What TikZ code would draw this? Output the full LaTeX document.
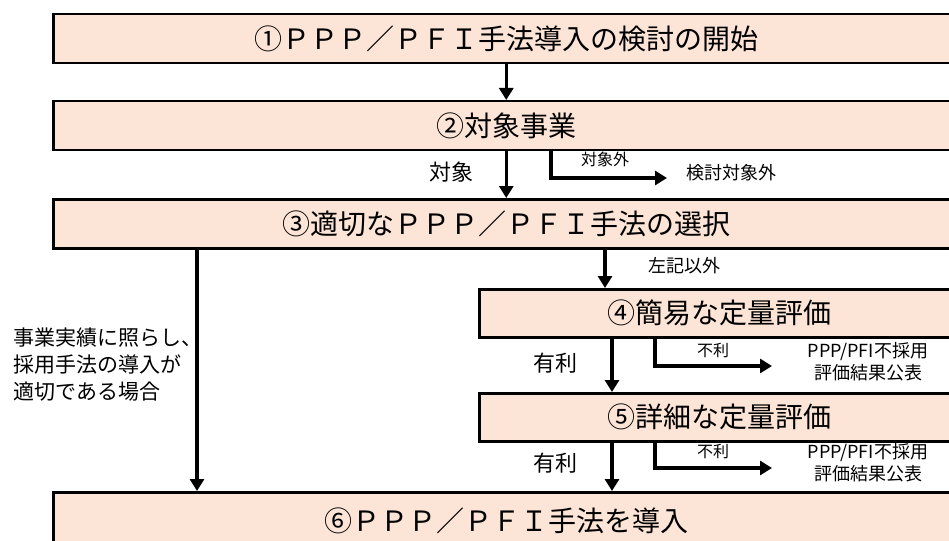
\documentclass[tikz,border=0pt]{standalone}
\usepackage{fontspec}
\setmainfont{Noto Sans CJK JP}
\usetikzlibrary{arrows.meta}

\definecolor{boxfill}{HTML}{FCE4D6}

\tikzset{
  stepbox/.style={draw=black, line width=2.5pt, fill=boxfill, rectangle, inner sep=0pt,
    anchor=north west, minimum height=49pt, font=\fontsize{28}{30}\selectfont},
  flow/.style={line width=3.5pt, -{Triangle[length=12pt,width=14pt]}},
  lbl/.style={inner sep=0pt, font=\fontsize{22}{24}\selectfont},
  midlbl/.style={inner sep=0pt, align=center, font=\fontsize{18}{22}\selectfont},
  sublbl/.style={inner sep=0pt, font=\fontsize{16}{18}\selectfont},
}

\begin{document}
\begin{tikzpicture}[x=1pt, y=-1pt]
\useasboundingbox (0,0) rectangle (949,540);
\clip (0,0) rectangle (949,540);

% main steps
\node[stepbox, minimum width=906pt] (b1) at (52,13) {①ＰＰＰ／ＰＦＩ手法導入の検討の開始};
\node[stepbox, minimum width=906pt] (b2) at (52,100) {②対象事業};
\node[stepbox, minimum width=906pt] (b3) at (52,198) {③適切なＰＰＰ／ＰＦＩ手法の選択};
\node[stepbox, minimum width=480pt, minimum height=48pt] (b4) at (478,288) {④簡易な定量評価};
\node[stepbox, minimum width=480pt, minimum height=48pt] (b5) at (478,392) {⑤詳細な定量評価};
\node[stepbox, minimum width=906pt, minimum height=58pt] (b6) at (52,491) {⑥ＰＰＰ／ＰＦＩ手法を導入};

% side results
\node[midlbl, anchor=west] (out2) at (686,173) {検討対象外};
\node[midlbl] (out4) at (868,362) {PPP/PFI不採用\\評価結果公表};
\node[midlbl] (out5) at (868,463) {PPP/PFI不採用\\評価結果公表};
\coordinate (x2) at (667,178);
\coordinate (x4) at (772,366);
\coordinate (x5) at (772,468);

% labels
\node[lbl] (l2) at (451,172) {対象};
\node[sublbl] (n2) at (605,159) {対象外};
\node[midlbl] (l3) at (684,266) {左記以外};
\node[lbl] (l4) at (555,363) {有利};
\node[sublbl] (n4) at (713,350) {不利};
\node[lbl] (l5) at (555,463) {有利};
\node[sublbl] (n5) at (713,451) {不利};
\node[inner sep=0pt, anchor=west, align=left, font=\fontsize{21}{27}\selectfont] (l6) at (13,365)
  {事業実績に照らし、\\採用手法の導入が\\適切である場合};

% arrows
\coordinate (a4) at ([xshift=127pt]b4.north west);
\coordinate (a5) at ([xshift=134pt]b4.south west);
\coordinate (a6) at ([xshift=134pt]b5.south west);
\draw[flow] (b1.south) -- (b2.north);
\draw[flow] (b2.south) -- (b3.north);
\draw[flow] ([xshift=499pt]b2.south west) |- (x2);
\draw[flow] ([xshift=145pt]b3.south west) -- ([xshift=145pt]b6.north west);
\draw[flow] (b3.south -| a4) -- (a4);
\draw[flow] (a5) -- (a5 |- b5.north);
\draw[flow] ([xshift=177pt]b4.south west) |- (x4);
\draw[flow] (a6) -- (a6 |- b6.north);
\draw[flow] ([xshift=177pt]b5.south west) |- (x5);
\end{tikzpicture}
\end{document}
